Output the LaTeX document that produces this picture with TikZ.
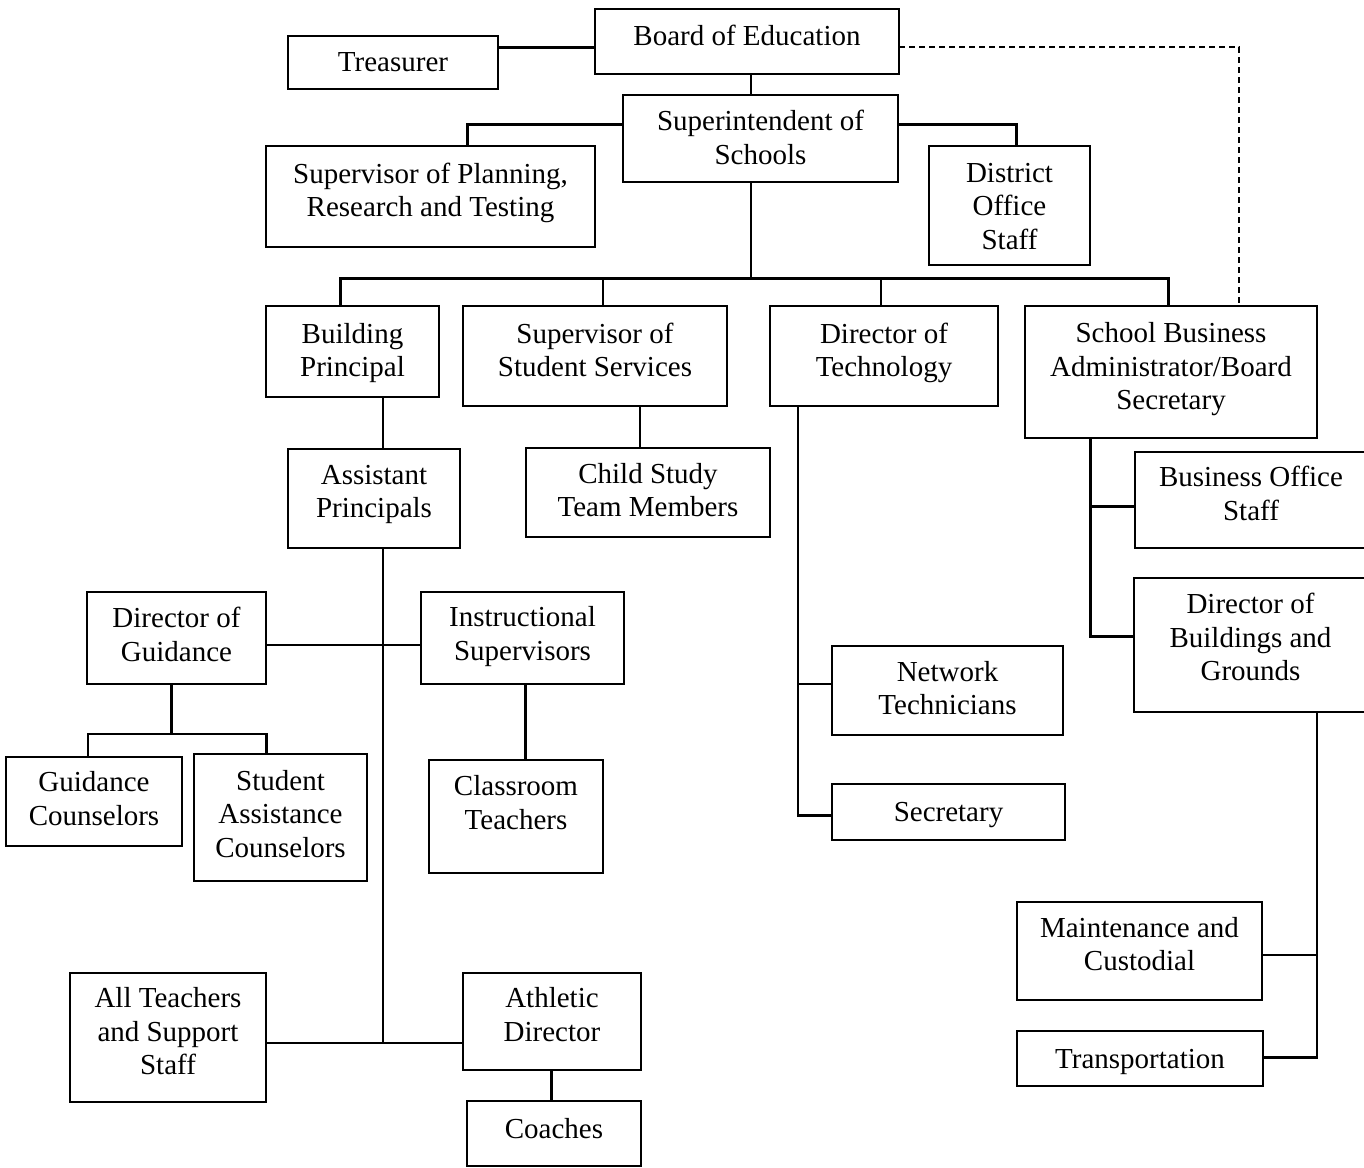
\documentclass[tikz,border=0pt]{standalone}
\usepackage{fontspec}
\setmainfont{Liberation Serif}
\tikzset{
  boxst/.style={draw, line width=1.8pt, inner sep=0pt, outer sep=0pt},
  txt/.style={align=center, inner sep=0pt, font=\fontsize{29}{33.5}\selectfont,
    execute at begin node={\strut}, execute at end node={\strut}},
  conn/.style={line width=2.4pt},
  thickconn/.style={line width=3pt},
  thinconn/.style={line width=1.7pt},
  dashconn/.style={line width=1.7pt, dash pattern=on 6pt off 4pt},
}
\newcommand{\obox}[7]{%
  \node[boxst, minimum width={#4-#2}, minimum height={#5-#3}] (#1) at ({(#2+#4)/2},{(#3+#5)/2}) {};
  \node[txt] (#1t) at ({(#2+#4)/2},#7) {#6};
}
\begin{document}
\begin{tikzpicture}[x=1pt,y=-1pt]
\useasboundingbox (0,0) rectangle (1364,1167);
% boxes
\obox{boe}{595}{9}{899}{74}{Board of Education}{39}
\obox{tre}{288}{36}{498}{89}{Treasurer}{65}
\obox{supt}{623}{95}{898}{182}{Superintendent of\\Schools}{142.5}
\obox{sprt}{266}{146}{595}{247}{Supervisor of Planning,\\Research and Testing}{195}
\obox{dos}{929}{146}{1090}{265}{District\\Office\\Staff}{211}
\obox{bp}{266}{306}{439}{397}{Building\\Principal}{355}
\obox{sss}{463}{306}{727}{406}{Supervisor of\\Student Services}{355}
\obox{dot}{770}{306}{998}{406}{Director of\\Technology}{355}
\obox{sba}{1025}{306}{1317}{438}{School Business\\Administrator/Board\\Secretary}{371}
\obox{ap}{288}{449}{460}{548}{Assistant\\Principals}{496.5}
\obox{cst}{526}{448}{770}{537}{Child Study\\Team Members}{495}
\obox{bos}{1135}{452}{1367}{548}{Business Office\\Staff}{498.5}
\obox{dbg}{1134}{578}{1367}{712}{Director of\\Buildings and\\Grounds}{642}
\obox{dog}{87}{592}{266}{684}{Director of\\Guidance}{639.5}
\obox{is}{421}{592}{624}{684}{Instructional\\Supervisors}{638.5}
\obox{nt}{832}{646}{1063}{735}{Network\\Technicians}{693}
\obox{gc}{6}{757}{182}{846}{Guidance\\Counselors}{803.5}
\obox{sac}{194}{754}{367}{881}{Student\\Assistance\\Counselors}{818.5}
\obox{ct}{429}{760}{603}{873}{Classroom\\Teachers}{807.5}
\obox{sec}{832}{784}{1065}{840}{Secretary}{815}
\obox{mc}{1017}{902}{1262}{1000}{Maintenance and\\Custodial}{949}
\obox{tr}{1017}{1031}{1263}{1086}{Transportation}{1061.5}
\obox{allt}{70}{973}{266}{1102}{All Teachers\\and Support\\Staff}{1036}
\obox{ath}{463}{973}{641}{1070}{Athletic\\Director}{1019.5}
\obox{coa}{467}{1101}{641}{1166}{Coaches}{1131.5}
% junction coordinates
\coordinate (yT) at (0,47);
\coordinate (xS) at (751,0);
\coordinate (yS) at (0,124);
\coordinate (jL) at (467.6,124);
\coordinate (jR) at (1016,124);
\coordinate (jRow) at (751,278);
\coordinate (jDash) at (1239,47);
\coordinate (xAP) at (383,0);
\coordinate (jAthl) at (383,1043);
\coordinate (yG) at (0,645);
\coordinate (jG) at (171.4,734);
\coordinate (jGL) at (87.8,734);
\coordinate (jGR) at (266.5,734);
\coordinate (xT) at (797.7,0);
\coordinate (jTech) at (797.7,815.5);
\coordinate (yNT) at (0,684);
\coordinate (xB) at (1090.7,0);
\coordinate (jBus) at (1090.7,636);
\coordinate (yBOS) at (0,506);
\coordinate (xD) at (1317,0);
\coordinate (jDBG) at (1317,1057.5);
\coordinate (yMC) at (0,955);
% connectors
\draw[thickconn] (tre.east |- yT) -- (boe.west |- yT);
\draw[thinconn] (boe.south -| xS) -- (supt.north -| xS);
\draw[thickconn] (supt.west |- yS) -- (jL) -- (sprt.north -| jL);
\draw[thickconn] (supt.east |- yS) -- (jR) -- (dos.north -| jR);
\draw[thinconn] (supt.south -| xS) -- (jRow);
\draw[thickconn] (bp.north -| 340,0) -- (340,278) -- (1168,278) -- (sba.north -| 1168,0);
\draw[conn] (603,278) -- (sss.north -| 603,0);
\draw[conn] (881,278) -- (dot.north -| 881,0);
\draw[dashconn] (boe.east |- yT) -- (jDash) -- (sba.north -| jDash);
\draw[conn] (bp.south -| xAP) -- (ap.north -| xAP);
\draw[conn] (ap.south -| xAP) -- (jAthl);
\draw[thinconn] (dog.east |- yG) -- (is.west |- yG);
\draw[conn] (dog.south -| jG) -- (jG);
\draw[conn] (gc.north -| jGL) -- (jGL) -- (jGR) -- (sac.north -| jGR);
\draw[thickconn] (is.south -| 525,0) -- (ct.north -| 525,0);
\draw[thinconn] (allt.east |- jAthl) -- (ath.west |- jAthl);
\draw[thickconn] (ath.south -| 551.8,0) -- (coa.north -| 551.8,0);
\draw[thinconn] (sss.south -| 640,0) -- (cst.north -| 640,0);
\draw[conn] (dot.south -| xT) -- (jTech) -- (sec.west |- jTech);
\draw[conn] (xT |- yNT) -- (nt.west |- yNT);
\draw[thickconn] (sba.south -| xB) -- (jBus) -- (dbg.west |- jBus);
\draw[thickconn] (xB |- yBOS) -- (bos.west |- yBOS);
\draw[conn] (dbg.south -| xD) -- (jDBG) -- (tr.east |- jDBG);
\draw[thinconn] (xD |- yMC) -- (mc.east |- yMC);
\end{tikzpicture}
\end{document}
